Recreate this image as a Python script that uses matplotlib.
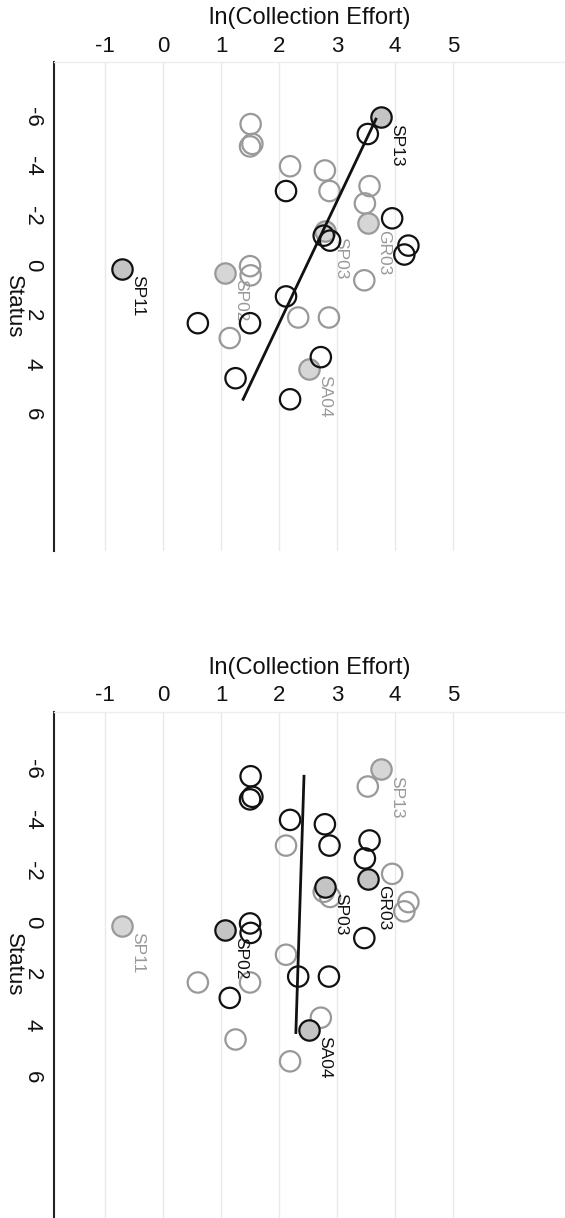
import matplotlib
matplotlib.use("Agg")
import matplotlib.pyplot as plt

plt.rcParams['font.family'] = ['Liberation Sans', 'DejaVu Sans']

# ---- data ----
# group A: black in the upper panel, grey in the lower panel
a_effort = [3.76, 3.53, 2.12, 3.95, 2.77, 2.88, 4.23, 4.16, -0.70, 2.12, 0.60, 1.50, 2.72, 1.25, 2.19]
a_status = [-5.97, -5.3, -3.0, -1.9, -1.2, -1.0, -0.8, -0.44, 0.13, 1.25, 2.33, 2.33, 3.7, 4.55, 5.4]
a_filled = [True, False, False, False, False, False, False, False, True, False, False, False, False, False, False]
a_labels = ["SP13", "", "", "", "", "", "", "", "SP11", "", "", "", "", "", ""]

# group B: grey in the upper panel, black in the lower panel
b_effort = [1.51, 1.54, 1.50, 2.19, 2.79, 2.87, 3.56, 3.48, 3.54, 2.79, 1.50, 1.51, 1.07, 3.47, 2.33, 2.86, 1.15, 2.51]
b_status = [-5.7, -4.9, -4.8, -4.0, -3.83, -3.0, -3.2, -2.5, -1.7, -1.4, 0.03, 0.4, 0.3, 0.6, 2.1, 2.1, 2.93, 4.17]
b_filled = [False, False, False, False, False, False, False, False, True, True, False, False, True, False, False, False, False, True]
b_labels = ["", "", "", "", "", "", "", "", "GR03", "SP03", "", "", "SP02", "", "", "", "", "SA04"]

# fitted lines (effort, status endpoints)
top_line_effort = [3.67, 1.38]
top_line_status = [-5.9, 5.4]
bot_line_effort = [2.43, 2.29]
bot_line_status = [-5.7, 4.28]

x_ticks = [-1, 0, 1, 2, 3, 4, 5]
y_ticks = [-6, -4, -2, 0, 2, 4, 6]

BLACK = "#111111"
GREY = "#999999"
DARK_FILL = "#c4c4c4"
LIGHT_FILL = "#d6d6d6"

fig = plt.figure(figsize=(5.65, 12.18), dpi=100)
ax_top = fig.add_axes([0.0956, 0.548, 0.9044, 0.401])
ax_bot = fig.add_axes([0.0956, 0.0, 0.9044, 0.4154])


def draw_group(ax, eff, sta, filled, labels, edge, fill, zo):
    for e, s, f, lab in zip(eff, sta, filled, labels):
        ax.scatter([e], [s], s=215, marker='o',
                   facecolors=fill if f else 'none',
                   edgecolors=edge, linewidths=1.6, zorder=zo + (1 if f else 0))
        if lab:
            ax.annotate(lab, (e, s), xytext=(5.8, -4.5), textcoords='offset points',
                        rotation=270, ha='left', va='top', fontsize=12.5,
                        color=edge, zorder=zo + 2)


def style(ax):
    ax.set_xlim(-1.88, 6.93)
    ax.set_ylim(11.5, -8.2)
    ax.xaxis.tick_top()
    ax.xaxis.set_label_position('top')
    ax.set_xticks(x_ticks)
    ax.set_xticklabels([str(t) for t in x_ticks], fontsize=16, color='#111111')
    ax.set_yticks(y_ticks)
    ax.set_yticklabels([str(t) for t in y_ticks], fontsize=16, color='#111111',
                       rotation=270, va='center')
    ax.tick_params(axis='both', length=0)
    ax.tick_params(axis='x', pad=4)
    ax.tick_params(axis='y', pad=8)
    ax.set_xlabel("ln(Collection Effort)", fontsize=17, labelpad=8, color='#111111')
    ax.set_ylabel("Status", fontsize=16, rotation=270, color='#111111')
    ax.yaxis.set_label_coords(-0.1, 0.5)
    ax.grid(axis='x', color='#e9e9e9', linewidth=1.0)
    ax.set_axisbelow(True)
    for side in ['right', 'bottom']:
        ax.spines[side].set_visible(False)
    ax.spines['top'].set_color('#eeeeee')
    ax.spines['top'].set_linewidth(1.0)
    ax.spines['left'].set_color('#222222')
    ax.spines['left'].set_linewidth(1.5)


# upper panel: group A black, group B grey
style(ax_top)
draw_group(ax_top, b_effort, b_status, b_filled, b_labels, GREY, LIGHT_FILL, 3)
draw_group(ax_top, a_effort, a_status, a_filled, a_labels, BLACK, DARK_FILL, 6)
ax_top.plot(top_line_effort, top_line_status, color=BLACK, lw=2, zorder=10)

# lower panel: group B black, group A grey
style(ax_bot)
draw_group(ax_bot, a_effort, a_status, a_filled, a_labels, GREY, LIGHT_FILL, 3)
draw_group(ax_bot, b_effort, b_status, b_filled, b_labels, BLACK, DARK_FILL, 6)
ax_bot.plot(bot_line_effort, bot_line_status, color=BLACK, lw=2, zorder=10)

fig.savefig("out.png", dpi=100)
